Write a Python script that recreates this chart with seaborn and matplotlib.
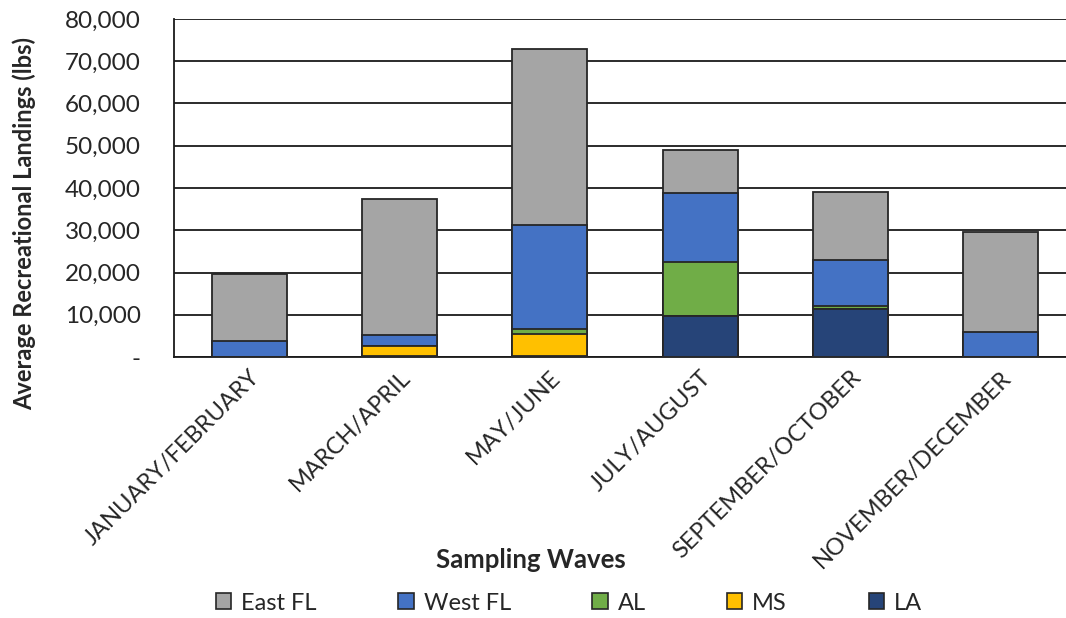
import matplotlib
matplotlib.use("Agg")
import matplotlib.pyplot as plt
import seaborn as sns
import pandas as pd
import numpy as np
from matplotlib.patches import Patch
from matplotlib.ticker import FuncFormatter

waves = ["JANUARY/FEBRUARY", "MARCH/APRIL", "MAY/JUNE", "JULY/AUGUST",
         "SEPTEMBER/OCTOBER", "NOVEMBER/DECEMBER"]
la = [0, 200, 200, 9800, 11300, 0]
ms = [0, 2300, 5200, 0, 0, 0]
al = [0, 0, 1300, 12700, 800, 0]
west_fl = [3800, 2600, 24500, 16200, 10900, 5900]
east_fl = [15800, 32300, 41700, 10400, 16000, 23700]

series_names = ["East FL", "West FL", "AL", "MS", "LA"]
colors = {"East FL": "#A5A5A5", "West FL": "#4472C4", "AL": "#70AD47",
          "MS": "#FFC000", "LA": "#264478"}

sns.set_theme(style="white")
plt.rcParams['font.family'] = ['Lato', 'DejaVu Sans']

fig = plt.figure(figsize=(10.66, 6.18), dpi=100)
ax = fig.add_axes([174/1066, (618-357)/618, 902/1066, 338/618])

# stacking order bottom->top: LA, MS, AL, West FL, East FL
stack = [("LA", la), ("MS", ms), ("AL", al), ("West FL", west_fl), ("East FL", east_fl)]
cum = np.zeros(len(waves))
cums = []
for name, vals in stack:
    cum = cum + np.array(vals, dtype=float)
    cums.append((name, cum.copy()))

for name, c in reversed(cums):
    df = pd.DataFrame({"wave": waves, "value": c})
    sns.barplot(data=df, x="wave", y="value", color=colors[name], ax=ax,
                width=0.5, edgecolor="#262626", linewidth=1.3, saturation=1,
                errorbar=None, zorder=3)

ax.set_ylim(0, 80000)
ax.set_xlim(-0.5, len(waves) - 0.5)
ax.set_yticks(np.arange(0, 80001, 10000))
ax.yaxis.set_major_formatter(FuncFormatter(lambda v, p: "-" if v == 0 else f"{int(v):,}"))
ax.grid(axis="y", color="#1a1a1a", linewidth=1.3, zorder=0)
ax.set_axisbelow(True)
for s in ["top", "right"]:
    ax.spines[s].set_visible(False)
ax.spines["left"].set_color("#1a1a1a")
ax.spines["left"].set_linewidth(1.3)
ax.spines["bottom"].set_color("#1a1a1a")
ax.spines["bottom"].set_linewidth(1.3)

ax.tick_params(axis="y", labelsize=17.5, colors="#262626", length=0, pad=24)
ax.tick_params(axis="x", labelsize=17, colors="#262626", length=0, pad=7)
plt.setp(ax.get_xticklabels(), rotation=45, ha="right", rotation_mode="anchor")

ax.set_xlabel("")
ax.set_ylabel("")
fig.text(24/1066, 1 - 223/618, "Average Recreational Landings (lbs)", rotation=90,
         ha="center", va="center", fontsize=17, fontweight="bold", color="#262626")
fig.text(531/1066, 1 - 560/618, "Sampling Waves", ha="center", va="center",
         fontsize=18.5, fontweight="bold", color="#262626")

handles = [Patch(facecolor=colors[n], edgecolor="#262626", linewidth=1.2, label=n)
           for n in series_names]
fig.legend(handles=handles, loc="center", bbox_to_anchor=(569/1066, 1 - 603/618),
           ncol=5, frameon=False, fontsize=17, columnspacing=3.45,
           handlelength=0.65, handleheight=0.65, handletextpad=0.42,
           borderpad=0, borderaxespad=0)

fig.savefig("out.png", dpi=100)
